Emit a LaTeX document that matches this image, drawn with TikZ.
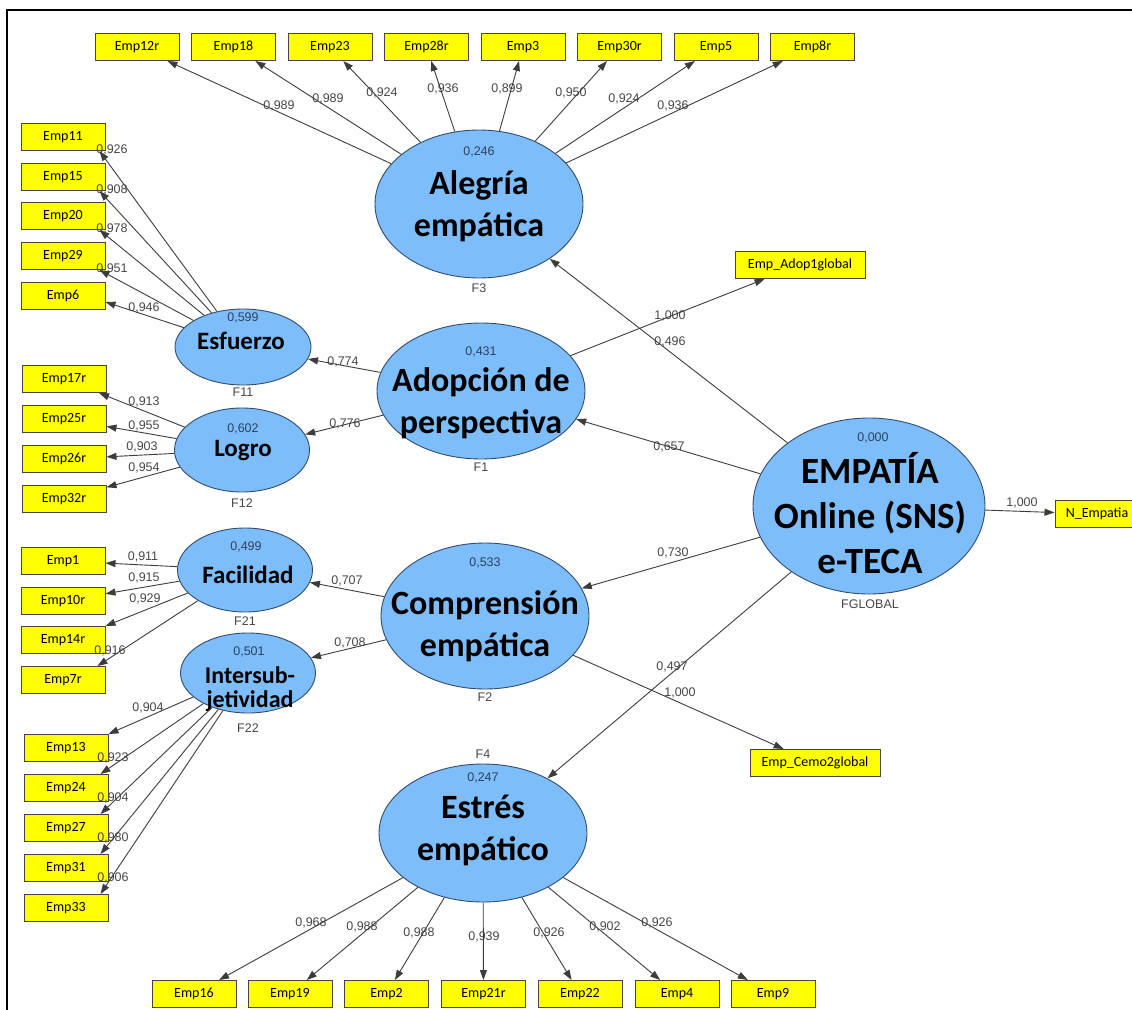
\documentclass[tikz,border=0pt]{standalone}
\usepackage{fontspec}
\setmainfont{Carlito}
\newfontfamily\numfont{Liberation Sans}
\usetikzlibrary{arrows.meta,shapes.geometric,positioning}

\definecolor{latentblue}{RGB}{125,190,250}
\definecolor{latentedge}{RGB}{50,75,110}
\definecolor{itemyellow}{RGB}{255,255,0}
\definecolor{itemedge}{RGB}{70,70,60}
\definecolor{pathgray}{RGB}{60,60,60}
\definecolor{numgray}{RGB}{70,70,70}
\definecolor{rsqblue}{RGB}{45,65,95}

\begin{document}
\begin{tikzpicture}[x=1pt,y=-1pt,
      latent/.style={
         ellipse,
         draw=latentedge,
         line width=0.9pt,
         fill=latentblue,
         inner sep=0pt
      },
      bigvar/.style={latent, minimum width=208pt, minimum height=148pt},
      smallvar/.style={latent, minimum width=135pt, minimum height=84pt},
      bigtxt/.style={align=center, inner sep=0pt, font=\fontsize{34}{42}\selectfont\bfseries},
      smalltxt/.style={align=center, inner sep=0pt, font=\fontsize{25}{25}\selectfont\bfseries},
      rsq/.style={inner sep=0pt, text=rsqblue, font=\numfont\fontsize{12.5}{14}\selectfont},
      fname/.style={inner sep=0pt, text=numgray, font=\numfont\fontsize{12.5}{14}\selectfont},
      wt/.style={inner sep=0pt, text=numgray, font=\numfont\fontsize{12.5}{14}\selectfont},
      item/.style={
         rectangle,
         draw=itemedge,
         line width=1pt,
         fill=itemyellow,
         minimum width=84pt,
         minimum height=27pt,
         inner sep=0pt,
         font=\fontsize{14}{16}\selectfont
      },
      wideitem/.style={item, minimum width=130pt},
      load/.style={draw=pathgray, line width=0.9pt, -{Triangle[length=10pt,width=7pt]}},
      frameline/.style={line width=2pt, draw=black}
    ]
    \useasboundingbox (0,0) rectangle (1132,1009);
    \draw[frameline] (7,1015) -- (7,10) -- (1140,10);

    % latent variables
    \node[bigvar] (F3) at (479,204) {};
    \node[bigtxt] (F3-txt) at (479,206) {Alegría\\empática};
    \node[rsq] (F3-r2) at (479,152) {0,246};
    \node[fname] (F3-lab) at (479,288) {F3};

    \node[bigvar, minimum height=136pt] (F1) at (481,391) {};
    \node[bigtxt] (F1-txt) at (481,403) {Adopción de\\perspectiva};
    \node[rsq] (F1-r2) at (481,352) {0,431};
    \node[fname] (F1-lab) at (481,467) {F1};

    \node[bigvar, minimum height=146pt] (F2) at (485,616) {};
    \node[bigtxt] (F2-txt) at (485,626) {Comprensión\\empática};
    \node[rsq] (F2-r2) at (485,563) {0,533};
    \node[fname] (F2-lab) at (485,697) {F2};

    \node[bigvar, minimum height=138pt] (F4) at (483,833) {};
    \node[bigtxt] (F4-txt) at (483,830) {Estrés\\empático};
    \node[rsq] (F4-r2) at (483,778) {0,247};
    \node[fname] (F4-lab) at (483,754) {F4};

    \node[latent, minimum width=232pt, minimum height=176pt] (FGLOBAL) at (869,506) {};
    \node[bigtxt, font=\fontsize{37}{45}\selectfont\bfseries] (FGLOBAL-txt) at (870,513) {EMPATÍA\\Online (SNS)\\e-TECA};
    \node[rsq] (FGLOBAL-r2) at (873,438) {0,000};
    \node[fname] (FGLOBAL-lab) at (870,604) {FGLOBAL};

    \node[smallvar, minimum width=136pt, minimum height=76pt] (F11) at (243,347) {};
    \node[smalltxt] (F11-txt) at (241,341) {Esfuerzo};
    \node[rsq] (F11-r2) at (243,318) {0,599};
    \node[fname] (F11-lab) at (243,392) {F11};

    \node[smallvar] (F12) at (242,450) {};
    \node[smalltxt] (F12-txt) at (243,451) {Logro};
    \node[rsq] (F12-r2) at (243,429) {0,602};
    \node[fname] (F12-lab) at (242,503) {F12};

    \node[smallvar] (F21) at (245,570) {};
    \node[smalltxt] (F21-txt) at (248,575) {Facilidad};
    \node[rsq] (F21-r2) at (246,547) {0,499};
    \node[fname] (F21-lab) at (245,621) {F21};

    \node[smallvar, minimum height=80pt] (F22) at (248,673) {};
    \node[smalltxt, font=\fontsize{24}{24}\selectfont\bfseries] (F22-txt) at (250,689) {Intersub-\\jetividad};
    \node[rsq] (F22-r2) at (249,652) {0,501};
    \node[fname] (F22-lab) at (248,728) {F22};

    % indicators
    \foreach \nm/\xx in {Emp12r/137,Emp18/233.5,Emp23/330,Emp28r/426.5,Emp3/523,Emp30r/619.5,Emp5/716,Emp8r/812.5}
       \node[item] (\nm) at (\xx,47) {\nm};
    \foreach \nm/\yy in {Emp11/137,Emp15/177,Emp20/216,Emp29/256,Emp6/296}
       \node[item] (\nm) at (63,\yy) {\nm};
    \foreach \nm/\yy in {Emp17r/379,Emp25r/419,Emp26r/459,Emp32r/499}
       \node[item] (\nm) at (64,\yy) {\nm};
    \foreach \nm/\yy in {Emp1/561,Emp10r/601,Emp14r/640,Emp7r/680}
       \node[item] (\nm) at (63,\yy) {\nm};
    \foreach \nm/\yy in {Emp13/748,Emp24/788,Emp27/828,Emp31/868,Emp33/908}
       \node[item] (\nm) at (66,\yy) {\nm};
    \foreach \nm/\xx in {Emp16/194,Emp19/290,Emp2/386.5,Emp21r/483.5,Emp22/580,Emp4/677,Emp9/773}
       \node[item] (\nm) at (\xx,994) {\nm};
    \node[wideitem] (EAdop) at (800,265) {Emp\_Adop1global};
    \node[wideitem] (ECemo) at (815,763) {Emp\_Cemo2global};
    \node[item] (NEmp) at (1097,514) {N\_Empatia};

    % outer loadings
    \foreach \nm/\lx/\ly/\w in {Emp12r/279/106/{0,989},Emp18/328/99/{0,989},Emp23/382/93/{0,924},Emp28r/443/89/{0,936},Emp3/507/89/{0,899},Emp30r/571/93/{0,950},Emp5/624/99/{0,924},Emp8r/673/106/{0,936}}{
       \node[wt] (w-\nm) at (\lx,\ly) {\w};
       \draw[load] (F3) -- (\nm);
    }
    \foreach \nm/\ly/\w in {Emp11/150/{0,926},Emp15/190/{0,908},Emp20/229/{0,978},Emp29/269/{0,951}}{
       \node[wt] (w-\nm) at (112,\ly) {\w};
       \draw[load] (F11) -- ([xshift=-6pt]\nm.south east);
    }
    \node[wt] (w-Emp6) at (144,308) {0,946};
    \draw[load] (F11) -- ([yshift=-6pt]Emp6.east);
    \foreach \nm/\lx/\ly/\w in {Emp17r/144/402/{0,913},Emp25r/144/426/{0,955},Emp26r/142/447/{0,903},Emp32r/144/468/{0,954}}{
       \node[wt] (w-\nm) at (\lx,\ly) {\w};
       \draw[load] (F12) -- (\nm);
    }
    \foreach \nm/\lx/\ly/\w in {Emp1/143/557/{0,911},Emp10r/144/578/{0,915}}{
       \node[wt] (w-\nm) at (\lx,\ly) {\w};
       \draw[load] (F21) -- (\nm);
    }
    \node[wt] (w-Emp14r) at (145,599) {0,929};
    \draw[load] (F21) -- (Emp14r.north east);
    \node[wt] (w-Emp7r) at (110,651) {0,916};
    \draw[load] (F21) -- ([xshift=-8pt]Emp7r.north east);
    \node[wt] (w-Emp13) at (148,708) {0,904};
    \draw[load] (F22) -- (Emp13.north east);
    \foreach \nm/\ly/\w in {Emp24/758/{0,923},Emp27/798/{0,904},Emp31/838/{0,980},Emp33/878/{0,906}}{
       \node[wt] (w-\nm) at (113,\ly) {\w};
       \draw[load] (F22) -- ([xshift=-8pt]\nm.north east);
    }
    \foreach \nm/\lx/\ly/\w in {Emp16/311/923/{0,968},Emp19/362/927/{0,988},Emp2/419/933/{0,988},Emp21r/484/937/{0,939},Emp22/549/933/{0,926},Emp4/605/927/{0,902},Emp9/657/923/{0,926}}{
       \node[wt] (w-\nm) at (\lx,\ly) {\w};
       \draw[load] (F4) -- (\nm);
    }

    % structural paths
    \node[wt] (w-F11) at (343,362) {0,774};
    \draw[load] (F1) -- (F11);
    \node[wt] (w-F12) at (345,424) {0,776};
    \draw[load] (F1) -- (F12);
    \node[wt] (w-F21) at (347,581) {0,707};
    \draw[load] (F2) -- (F21);
    \node[wt] (w-F22) at (350,643) {0,708};
    \draw[load] (F2) -- (F22);
    \node[wt] (w-EAdop) at (670,316) {1,000};
    \draw[load] (F1) -- (EAdop);
    \node[wt] (w-ECemo) at (680,693) {1,000};
    \draw[load] (F2) -- (ECemo);
    \node[wt] (w-F3) at (670,342) {0,496};
    \draw[load] (FGLOBAL) -- (F3);
    \node[wt] (w-F1) at (669,447) {0,657};
    \draw[load] (FGLOBAL) -- (F1);
    \node[wt] (w-F2) at (673,553) {0,730};
    \draw[load] (FGLOBAL) -- (F2);
    \node[wt] (w-F4) at (672,667) {0,497};
    \draw[load] (FGLOBAL) -- (F4);
    \node[wt] (w-NEmp) at (1022,503) {1,000};
    \draw[load] (FGLOBAL) -- (NEmp);
\end{tikzpicture}
\end{document}
